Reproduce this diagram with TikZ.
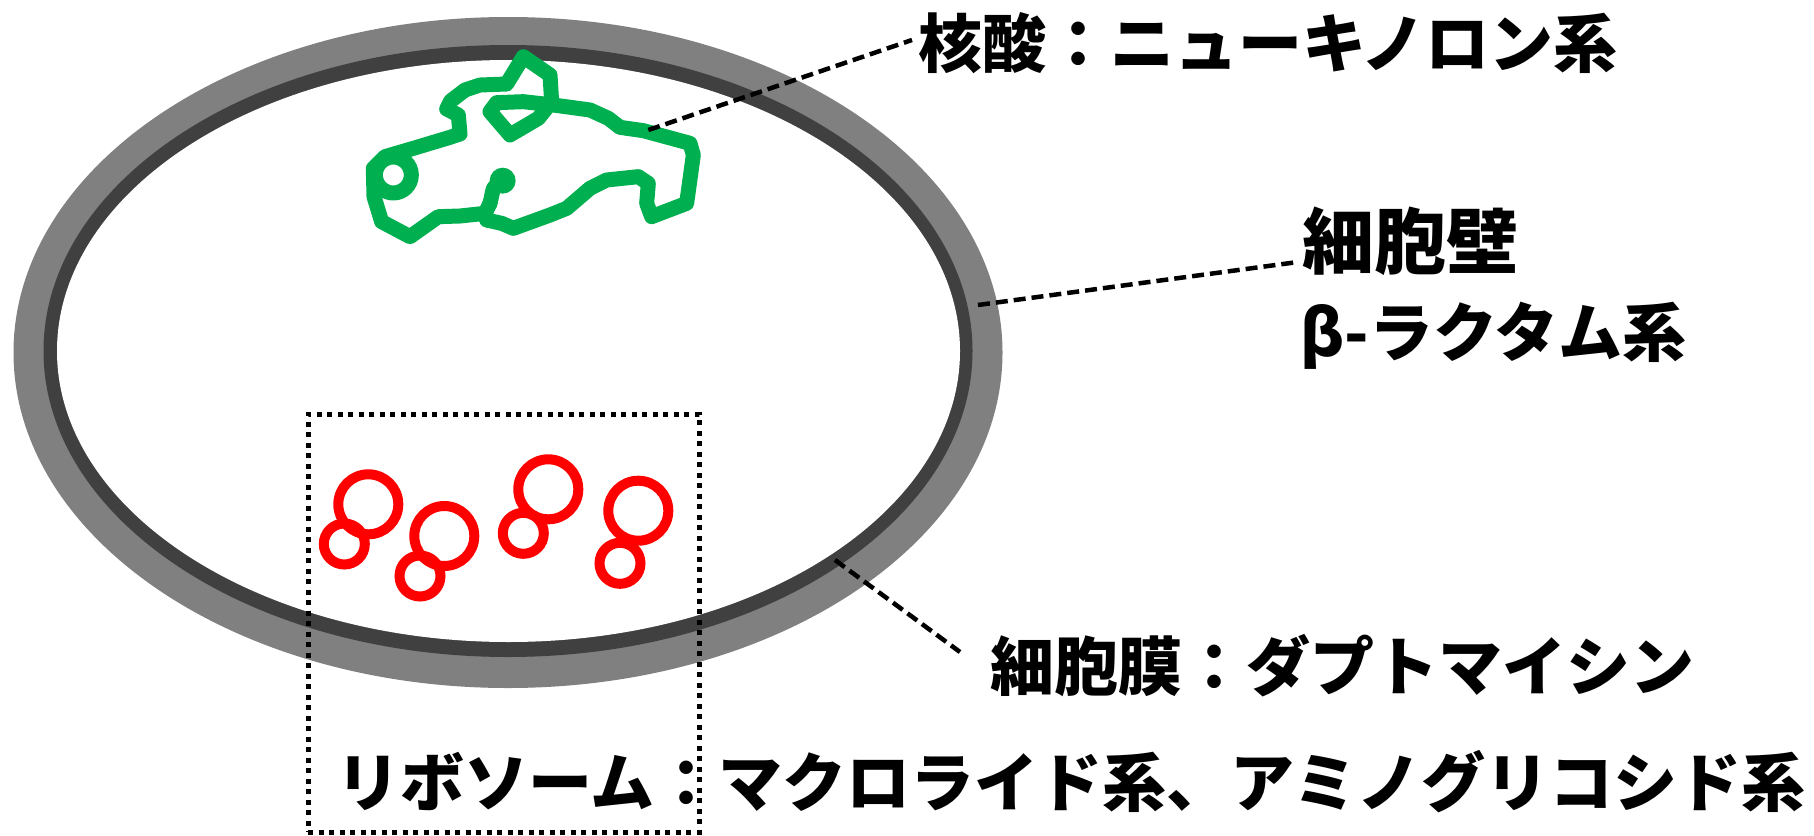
\documentclass[tikz,border=0pt]{standalone}
\usepackage{fontspec}
\newfontfamily\jp{Noto Sans CJK JP}
\usetikzlibrary{calc}
\definecolor{dnagreen}{RGB}{0,176,80}
\definecolor{wallgray}{RGB}{128,128,128}
\definecolor{membgray}{RGB}{64,64,64}
\begin{document}
\begin{tikzpicture}[x=1pt,y=-1pt,
  lbl/.style={font=\jp\bfseries\fontsize{64}{64}\selectfont, inner sep=0pt, anchor=west},
  biglbl/.style={font=\jp\bfseries\fontsize{72}{72}\selectfont, inner sep=0pt, anchor=west},
  lead/.style={draw=black, line width=4.5pt, dash pattern=on 12pt off 6pt},
  ribo/.style={draw=red, line width=10pt},
  dna/.style={draw=dnagreen, line width=15pt, line join=round, line cap=round},
  regionbox/.style={draw=black, line width=5pt, dash pattern=on 5pt off 5.5pt}]

\useasboundingbox (0,0) rectangle (1814,835);

% cell: wall, membrane, cytoplasm
\fill[wallgray] (508,352.5) ellipse [x radius=494.5pt, y radius=335.5pt];
\fill[membgray] (508,351) ellipse [x radius=464.5pt, y radius=306pt];
\fill[white] (508.5,351) ellipse [x radius=451.5pt, y radius=291pt];

% nucleic acid strand, laid out on a grid three times finer
\begin{scope}[shift={(350,40)}, x=0.33333pt, y=-0.33333pt]
  \draw[dna] (420,490) -- (405,520) -- (330,528) -- (265,530) -- (180,590)
    -- (95,545) -- (72,470) -- (70,385) -- (105,350) -- (190,325) -- (300,292)
    -- (330,282) -- (325,225) -- (290,207) -- (302,183) -- (345,150) -- (390,135)
    -- (470,132) -- (520,50) -- (600,105) -- (605,185) -- (565,235) -- (480,285)
    -- (420,215) -- (440,188) -- (520,185) -- (610,195) -- (720,210) -- (775,235)
    -- (810,262) -- (880,272) -- (1020,310) -- (1030,345) -- (1010,490)
    -- (905,530) -- (890,490) -- (895,430) -- (865,410) -- (770,420) -- (720,445)
    -- (650,505) -- (600,525) -- (490,565) -- (455,550) -- (410,540);
  \draw[dna] (460,415) -- (430,445) -- (420,490);
  \fill[dnagreen] (458,422) circle [radius=13pt];
  \draw[dna] (130,405) circle [radius=18pt];
  \coordinate (dnaTip) at (895,270);
\end{scope}

% ribosomes
\draw[ribo] (368.3,504.3) circle [radius=30pt];
\draw[ribo] (344.3,544) circle [radius=20.5pt];
\draw[ribo] (444.3,536) circle [radius=30pt];
\draw[ribo] (420,576) circle [radius=20.5pt];
\draw[ribo] (548.3,489.3) circle [radius=30pt];
\draw[ribo] (523.3,533.3) circle [radius=20.5pt];
\draw[ribo] (638.3,510.7) circle [radius=30pt];
\draw[ribo] (620,563.3) circle [radius=20.5pt];

% ribosome region
\node[regionbox, minimum width=391pt, minimum height=418pt, inner sep=0pt] (riboBox) at (503.5,623) {};

% points on the cell used by leader lines
\coordinate (wallPt) at (978,305);
\coordinate (membPt) at (835,560);

% labels
\node[lbl] (lblDNA) at (918,43) {核酸：ニューキノロン系};
\node[biglbl] (lblWall) at (1302,241) {細胞壁};
\node[lbl] (lblBeta) at (1300,336) {β-ラクタム系};
\node[lbl] (lblMemb) at (990,666) {細胞膜：ダプトマイシン};
\node[lbl] (lblRibo) at (336,782) {リボソーム：マクロライド系、アミノグリコシド系};

% leader lines
\draw[lead] (dnaTip) -- ($(lblDNA.west)+(-6,-3)$);
\draw[lead] (wallPt) -- ($(lblWall.west)+(-4,21)$);
\draw[lead] (membPt) -- ($(lblMemb.west)+(-30,-14)$);
\end{tikzpicture}
\end{document}
